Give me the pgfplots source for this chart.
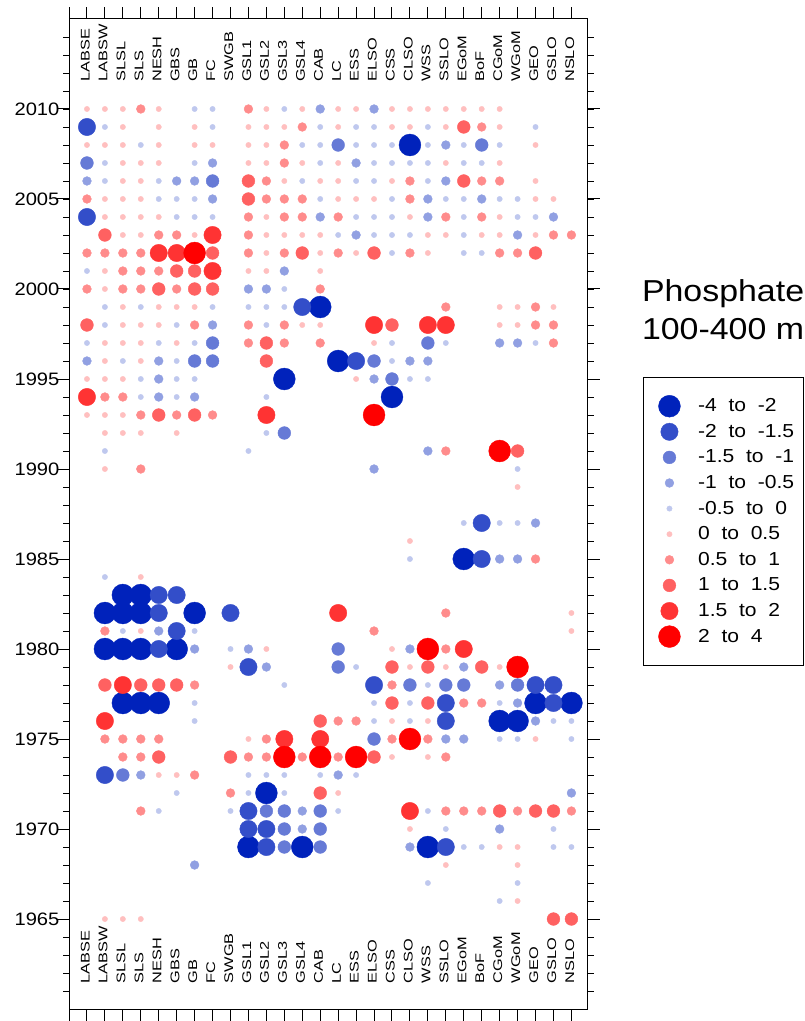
\documentclass[border=0pt]{standalone}
\usepackage{pgfplots}
\pgfplotsset{compat=1.18}
\usepackage{fontspec}
\setmainfont{Liberation Sans}[FakeStretch=1.12]
\newfontfamily\labfont{Liberation Sans}[FakeStretch=1.3]

\definecolor{bb}{RGB}{0,34,187}
\definecolor{rr}{RGB}{255,0,0}
\colorlet{b5}{bb}
\colorlet{b4}{bb!80!white}
\colorlet{b3}{bb!60!white}
\colorlet{b2}{bb!43!white}
\colorlet{b1}{bb!25!white}
\colorlet{r1}{rr!25!white}
\colorlet{r2}{rr!45!white}
\colorlet{r3}{rr!62!white}
\colorlet{r4}{rr!80!white}
\colorlet{r5}{rr}

\pgfplotsset{
  bub/.style={only marks, mark=*, mark options={line width=0.3pt},
    legend image code/.code={\path[draw=none,fill=none] (0pt,-9.6pt) rectangle (41pt,9.6pt);
      \draw[##1] plot coordinates {(19.5pt,0pt)};}},
}
\tikzset{collab/.style={xshift=-1.3pt, rotate=90, anchor=west, inner sep=0pt,
  font=\labfont\fontsize{9.43}{11}\selectfont}}

\begin{document}
\begin{tikzpicture}
\begin{axis}[
  width=388.9pt, height=742.5pt, scale only axis,
  xmin=0, xmax=28.9, ymin=1960, ymax=2015,
  xtick={0,...,28}, xticklabels={},
  ytick={1965,1970,...,2010}, minor ytick={1961,...,2014},
  tick align=outside, tick pos=both, yticklabel pos=left,
  major tick length=9pt, minor tick length=4.5pt,
  /pgf/number format/1000 sep={},
  /pgf/number format/assume math mode=true,
  yticklabel style={font=\fontsize{13.5}{16}\selectfont, inner xsep=0.5pt, xshift=2.5pt},
  axis line style={line width=0.75pt},
  every tick/.style={black, line width=0.75pt},
  clip=false,
  legend cell align=left,
  legend style={at={(1.107,0.6384)}, anchor=north west, draw=black, line width=0.6pt,
    inner xsep=0pt, inner ysep=12pt, row sep=0pt, column sep=0pt,
    font=\fontsize{14.1}{16}\selectfont, nodes={inner sep=0pt}},
]

% -4 to -2
\addplot[bub, color=b5, mark size=8.2pt] coordinates {
(19,2008)(14,1999)(15,1996)(12,1995)(18,1994)(22,1985)(3,1983)(4,1983)
(2,1982)(3,1982)(4,1982)(7,1982)(2,1980)(3,1980)(4,1980)(6,1980)
(3,1977)(4,1977)(5,1977)(26,1977)(28,1977)(24,1976)(25,1976)(11,1972)
(10,1969)(13,1969)(20,1969)};
\addlegendentry{\makebox[79pt][l]{-4~~to~~-2}}

% -2 to -1.5
\addplot[bub, color=b4, mark size=6.5pt] coordinates {
(1,2009)(1,2004)(13,1999)(16,1996)(23,1987)(23,1985)(5,1983)(6,1983)(5,1982)(9,1982)
(6,1981)(5,1980)(10,1979)(17,1978)(26,1978)(27,1978)(21,1977)(27,1977)(21,1976)(2,1973)
(10,1971)(10,1970)(11,1970)(11,1969)(21,1969)};
\addlegendentry{\makebox[79pt][l]{-2~~to~~-1.5}}

% -1.5 to -1
\addplot[bub, color=b3, mark size=4.8pt] coordinates {
(15,2008)(23,2008)(1,2007)(8,2006)(8,1997)(20,1997)(7,1996)(8,1996)(17,1996)(18,1995)
(12,1992)(15,1980)(15,1979)(19,1978)(21,1978)(22,1978)(25,1978)(17,1975)(3,1973)
(11,1971)(12,1971)(14,1971)(12,1970)(14,1970)(12,1969)(14,1969)};
\addlegendentry{\makebox[79pt][l]{-1.5~~to~~-1}}

% -1 to -0.5
\addplot[bub, color=b2, mark size=3.3pt] coordinates {
(14,2010)(17,2010)(21,2008)(8,2007)(16,2007)(1,2006)(6,2006)(7,2006)(21,2006)(8,2005)
(20,2005)(23,2005)(14,2004)(20,2004)(27,2004)(16,2003)(25,2003)(12,2001)(10,2000)(11,2000)
(8,1998)(24,1997)(25,1997)(1,1996)(5,1996)(19,1996)(20,1996)(5,1995)(17,1995)(5,1994)
(7,1994)(20,1991)(17,1990)(26,1987)(24,1985)(25,1985)(5,1981)(7,1980)(10,1980)(19,1980)
(11,1979)(22,1979)(24,1978)(25,1977)(26,1976)(21,1975)(22,1975)(4,1973)(15,1973)(28,1972)
(13,1971)(13,1970)(24,1970)(19,1969)(7,1968)};
\addlegendentry{\makebox[79pt][l]{-1~~to~~-0.5}}

% -0.5 to 0
\addplot[bub, color=b1, mark size=2.0pt] coordinates {
(7,2010)(8,2010)(12,2010)
(2,2009)(8,2009)(14,2009)(16,2009)(17,2009)(20,2009)(26,2009)
(4,2008)(13,2008)(14,2008)(16,2008)(17,2008)(18,2008)(20,2008)(22,2008)(24,2008)
(2,2007)(7,2007)(14,2007)(17,2007)(18,2007)(19,2007)(20,2007)(22,2007)(23,2007)
(2,2006)(5,2006)(13,2006)(16,2006)(17,2006)(20,2006)
(5,2005)(6,2005)(7,2005)(14,2005)(18,2005)(21,2005)(22,2005)(24,2005)(25,2005)
(6,2004)(7,2004)(8,2004)(16,2004)(17,2004)(18,2004)(22,2004)(25,2004)(26,2004)
(15,2003)(17,2003)(18,2003)(19,2003)(22,2003)
(18,2002)(22,2002)(23,2002)(1,2001)(12,2000)
(2,1999)(4,1999)(8,1999)(10,1999)(11,1999)(12,1999)
(2,1998)(6,1998)(11,1998)
(1,1997)(5,1997)(7,1997)(18,1997)(21,1997)(26,1997)
(3,1996)(6,1996)(18,1996)
(4,1995)(6,1995)(7,1995)(19,1995)(20,1995)
(4,1994)(6,1994)(11,1994)(11,1992)(2,1991)(10,1991)(25,1990)
(22,1987)(24,1987)(25,1987)(19,1985)(2,1984)(3,1981)(7,1981)(9,1980)(16,1979)
(12,1978)(20,1978)(7,1977)(17,1977)(19,1977)(24,1977)
(7,1976)(17,1976)(19,1976)(27,1976)(28,1976)(24,1975)(25,1975)(28,1975)
(10,1973)(11,1973)(12,1973)(14,1973)(16,1973)(6,1972)(10,1972)(12,1972)
(5,1971)(9,1971)(15,1971)(20,1971)(21,1970)(27,1970)
(22,1969)(23,1969)(27,1969)(28,1969)(20,1967)(25,1967)(24,1966)};
\addlegendentry{\makebox[79pt][l]{-0.5~~to~~0}}

% 0 to 0.5
\addplot[bub, color=r1, mark size=2.0pt] coordinates {
(1,2010)(2,2010)(3,2010)(5,2010)(11,2010)(13,2010)(15,2010)(16,2010)(18,2010)(19,2010)
(20,2010)(21,2010)(22,2010)(23,2010)(24,2010)
(3,2009)(5,2009)(7,2009)(10,2009)(11,2009)(12,2009)(15,2009)(18,2009)(19,2009)(21,2009)(24,2009)
(1,2008)(2,2008)(3,2008)(5,2008)(7,2008)(8,2008)(10,2008)(11,2008)(26,2008)
(3,2007)(4,2007)(5,2007)(10,2007)(11,2007)(13,2007)(15,2007)(21,2007)(24,2007)
(3,2006)(4,2006)(12,2006)(14,2006)(15,2006)(18,2006)(26,2006)
(2,2005)(3,2005)(4,2005)(15,2005)(16,2005)(17,2005)(26,2005)(27,2005)
(2,2004)(3,2004)(4,2004)(5,2004)(11,2004)(19,2004)(24,2004)
(3,2003)(4,2003)(7,2003)(11,2003)(12,2003)(13,2003)(14,2003)(20,2003)(21,2003)(23,2003)
(24,2003)(26,2003)
(11,2002)(14,2002)(16,2002)(20,2002)(2,2001)(10,2001)(11,2001)(14,2001)(2,2000)
(3,1999)(5,1999)(6,1999)(7,1999)(24,1999)(25,1999)(27,1999)
(3,1998)(4,1998)(5,1998)(13,1998)(14,1998)(24,1998)(25,1998)
(2,1997)(3,1997)(4,1997)(6,1997)(17,1997)(2,1996)(4,1996)
(1,1995)(2,1995)(3,1995)(16,1995)(1,1993)(2,1993)(3,1993)
(2,1992)(3,1992)(4,1992)(6,1992)(2,1990)(25,1989)(19,1986)(4,1984)
(28,1982)(4,1981)(28,1981)(11,1980)(18,1980)(9,1979)(19,1979)(21,1979)(24,1979)
(18,1976)(20,1976)(10,1975)(26,1975)(18,1974)(20,1974)(5,1973)(6,1973)(15,1972)
(19,1970)(24,1969)(25,1969)(21,1968)(25,1968)(25,1966)(2,1965)(3,1965)(4,1965)};
\addlegendentry{\makebox[79pt][l]{0~~to~~0.5}}

% 0.5 to 1
\addplot[bub, color=r2, mark size=3.3pt] coordinates {
(4,2010)(10,2010)(13,2009)(23,2009)(12,2008)(12,2007)(11,2006)(19,2006)(23,2006)(24,2006)
(1,2005)(11,2005)(12,2005)(13,2005)(19,2005)(10,2004)(12,2004)(13,2004)(15,2004)(21,2004)
(23,2004)(5,2003)(6,2003)(10,2003)(27,2003)(28,2003)(1,2002)(2,2002)(3,2002)(4,2002)
(10,2002)(12,2002)(15,2002)(19,2002)(24,2002)(25,2002)(3,2001)(4,2001)(5,2001)(1,2000)
(3,2000)(4,2000)(6,2000)(14,2000)(21,1999)(26,1999)(7,1998)(10,1998)(12,1998)(26,1998)
(27,1998)(10,1997)(12,1997)(14,1997)(27,1997)(2,1994)(3,1994)(4,1993)(6,1993)(8,1993)
(21,1991)(4,1990)(26,1985)(21,1982)(2,1981)(17,1981)(21,1980)(7,1978)(18,1978)(22,1977)
(23,1977)(15,1976)(16,1976)(2,1975)(3,1975)(4,1975)(5,1975)(11,1975)(18,1975)(20,1975)
(3,1974)(4,1974)(10,1974)(11,1974)(13,1974)(15,1974)(21,1974)(7,1973)(9,1972)(4,1971)
(21,1971)(22,1971)(23,1971)(25,1971)(28,1971)};
\addlegendentry{\makebox[79pt][l]{0.5~~to~~1}}

% 1 to 1.5
\addplot[bub, color=r3, mark size=4.8pt] coordinates {
(22,2009)(10,2006)(22,2006)(10,2005)(2,2003)(8,2002)(13,2002)(17,2002)(26,2002)(6,2001)
(7,2001)(5,2000)(7,2000)(8,2000)(1,1998)(18,1998)(11,1997)(11,1996)(5,1993)(7,1993)
(25,1991)(18,1979)(20,1979)(23,1979)(2,1978)(4,1978)(5,1978)(6,1978)(18,1977)(20,1977)
(14,1976)(5,1974)(9,1974)(17,1974)(14,1972)(24,1971)(26,1971)(27,1971)(27,1965)(28,1965)};
\addlegendentry{\makebox[79pt][l]{1~~to~~1.5}}

% 1.5 to 2
\addplot[bub, color=r4, mark size=6.5pt] coordinates {
(8,2003)(5,2002)(6,2002)(8,2001)(17,1998)(20,1998)(21,1998)(1,1994)(11,1993)(15,1982)
(22,1980)(3,1978)(2,1976)(12,1975)(14,1975)(19,1971)};
\addlegendentry{\makebox[79pt][l]{1.5~~to~~2}}

% 2 to 4
\addplot[bub, color=r5, mark size=8.2pt] coordinates {
(7,2002)(17,1993)(24,1991)(20,1980)(25,1979)(19,1975)(12,1974)(14,1974)(16,1974)};
\addlegendentry{\makebox[79pt][l]{2~~to~~4}}

\foreach \n [count=\i] in {LABSE,LABSW,SLSL,SLS,NESH,GBS,GB,FC,SWGB,GSL1,GSL2,GSL3,GSL4,CAB,LC,ESS,ELSO,CSS,CLSO,WSS,SSLO,EGoM,BoF,CGoM,WGoM,GEO,GSLO,NSLO}{
  \edef\tmp{\noexpand\node[collab] at (axis cs:\i,2011.5) {\n};
    \noexpand\node[collab] at (axis cs:\i,1961.42) {\n};}\tmp}

\node[anchor=base west, inner sep=0pt, font=\fontsize{22.7}{27}\selectfont]
  at (rel axis cs:1.1045,0.7144) {Phosphate};
\node[anchor=base west, inner sep=0pt, font=\fontsize{22.7}{27}\selectfont]
  at (rel axis cs:1.1045,0.6758) {100-400 m};

\coordinate (bbA) at (rel axis cs:-0.1331,1.0192);
\coordinate (bbB) at (rel axis cs:1.4175,-0.0121);
\end{axis}
\pgfresetboundingbox
\path (bbA) rectangle (bbB);
\end{tikzpicture}
\end{document}
